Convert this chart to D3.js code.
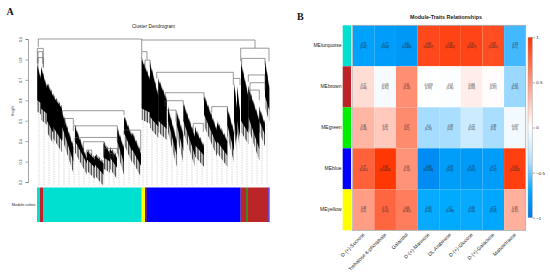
<!DOCTYPE html>
<html>
<head>
<meta charset="utf-8">
<script src="https://cdn.jsdelivr.net/npm/d3@7"></script>
<style>
html, body { margin: 0; padding: 0; background: #fff; }
svg { display: block; }
text { font-family: "Liberation Sans", Arial, sans-serif; fill: #222; }
</style>
</head>
<body>
<div id="chart"></div>
<script>
// panel A: dendrogram, x is leaf rank, y is height
let heightTicks = [0.9, 0.8, 0.7, 0.6, 0.5, 0.4, 0.3, 0.2];

// black leaf blocks: start, end, top at start, top at end, bottom at start, bottom at end
let leafBlocks = [
    [0.3, 4, .77, .70, .60, .585], [4, 11, .76, .64, .56, .53], [10, 16.3, .68, .62, .50, .44],
    [16, 25, .62, .56, .47, .40], [25, 36.3, .54, .37, .47, .30], [38, 50, .47, .31, .40, .29],
    [50, 58, .35, .31, .31, .27], [58, 66.5, .33, .29, .285, .235], [66.5, 73, .39, .34, .32, .30],
    [73, 80, .36, .32, .32, .27], [80.3, 87, .46, .36, .40, .29], [87, 95, .52, .42, .44, .35],
    [95, 104, .44, .34, .36, .28], [104.7, 113, .80, .70, .56, .54], [113, 121.3, .78, .62, .52, .47],
    [121.3, 129.7, .70, .60, .50, .46], [131, 139.7, .56, .40, .50, .33], [139.7, 146.3, .54, .43, .48, .35],
    [146.3, 158, .58, .42, .50, .33], [158, 167, .46, .37, .38, .33], [167, 180, .62, .45, .53, .38],
    [180, 190.3, .49, .40, .40, .33], [190.3, 197, .56, .44, .48, .35], [197, 200, .68, .56, .50, .40],
    [200, 203, .66, .55, .50, .42], [204, 211.3, .78, .62, .50, .44], [211.3, 222.3, .66, .50, .52, .36],
    [222.3, 228, .56, .48, .50, .43], [228, 232.3, .79, .66, .62, .55]
];

// merges: left, right, height, left leg end, right leg end
let merges = [
    [1.3, 104.7, .900, .860, .895], [104.7, 218, .895, .840, .855], [203.7, 232, .855, .790, .790],
    [0.3, 6.3, .854, .780, .760], [1, 5.7, .838, .780, .780], [1, 6.3, .809, .760, .760],
    [25.3, 87, .549, .528, .528], [28, 36.3, .511, .480, .480], [36.3, 80.3, .475, .450, .454],
    [38, 80.3, .418, .400, .400], [46.3, 67, .397, .348, .364], [49.7, 54.7, .356, .330, .330],
    [87, 103.7, .454, .430, .350], [67, 80.3, .364, .340, .340], [73, 76.3, .340, .320, .320],
    [119.7, 196.3, .737, .707, .707], [196.3, 203, .707, .675, .675], [128, 167, .637, .609, .600],
    [128, 146.3, .598, .570, .570], [129.7, 139, .552, .495, .495], [156.3, 166.3, .487, .446, .446],
    [174.7, 190.3, .569, .540, .540], [204.7, 228, .805, .773, .773], [211.3, 228, .724, .690, .690],
    [213, 228, .686, .650, .650], [213, 222.3, .650, .600, .600], [104.7, 110, .838, .800, .800],
    [108, 113, .797, .760, .760]
];

let stemRanks = [2, 7, 12, 17, 22, 27, 32, 37, 42, 47, 52, 57, 62, 67, 72, 77, 82, 87, 92, 97, 102, 106, 110,
    115, 120, 125, 130, 135, 140, 145, 150, 155, 160, 165, 170, 175, 180, 185, 190, 195, 200, 205, 210, 215, 220, 225, 230];

// module colour strip: colour name and leaf rank where each run starts
let moduleRuns = ["turquoise", "brown", "turquoise", "yellow", "darkmix", "blue", "brown", "green", "brown", "blue"];
let moduleStarts = [0, 3, 6, 104.7, 108, 110, 203.7, 209, 211, 231.5];
let moduleEnd = 232.5;
let moduleColors = {turquoise: "#00e0d0", brown: "#bb2528", yellow: "#ffff00", darkmix: "#5a1a90", blue: "#0000ff", green: "#3f8a1e"};

// panel B: module-trait heatmap
let traits = ["D-(+)-Sucrose", "Trehalose 6-phosphate", "Galactitol", "D-(+)-Mannose", "DL-Arabinose", "D-(+)-Glucose", "D-(+)-Galactose", "Maltotetraose"];
let modules = ["MEturquoise", "MEbrown", "MEgreen", "MEblue", "MEyellow"];
let sideColors = ["#00e0d0", "#bb2528", "#00ee00", "#0000ff", "#ffff00"];
let corTurquoise = [-0.75, -0.77, -0.81, 0.89, 0.92, 0.91, 0.87, -0.58];
let corBrown = [0.17, -0.045, 0.55, -0.0059, -0.02, 0.086, 0.015, -0.42];
let corGreen = [0.36, 0.26, 0.57, -0.4, -0.38, -0.24, -0.38, -0.057];
let corBlue = [0.77, 0.98, 0.53, -0.88, -0.78, -0.79, -0.77, 0.94];
let corYellow = [0.48, 0.75, 0.64, -0.69, -0.7, -0.69, -0.72, 0.38];
let pTurquoise = ["(0.02)", "(0.006)", "(0.0006)", "(0.0007)", "(0.0002)", "(0.0007)", "(0.0021)", "(0.1)"];
let pBrown = ["(0.66)", "(0.91)", "(0.13)", "(0.99)", "(0.96)", "(0.83)", "(0.97)", "(0.26)"];
let pGreen = ["(0.34)", "(0.5)", "(0.1)", "(0.29)", "(0.3)", "(0.54)", "(0.3)", "(0.9)"];
let pBlue = ["(0.015)", "(0.00004)", "(0.14)", "(0.0008)", "(0.01)", "(0.011)", "(0.02)", "(0.0002)"];
let pYellow = ["(0.2)", "(0.02)", "(0.062)", "(0.04)", "(0.036)", "(0.04)", "(0.03)", "(0.31)"];
let legendTicks = [1, 0.5, 0, -0.5, -1];

let cors = [corTurquoise, corBrown, corGreen, corBlue, corYellow];
let pvals = [pTurquoise, pBrown, pGreen, pBlue, pYellow];

let svg = d3.select("#chart").append("svg").attr("width", 550).attr("height", 274);

let defs = svg.append("defs");
defs.append("filter").attr("id", "soft").append("feGaussianBlur").attr("stdDeviation", 0.35);
let stripes = defs.append("pattern").attr("id", "leafStripes").attr("patternUnits", "userSpaceOnUse")
    .attr("width", 1.6).attr("height", 10);
stripes.append("rect").attr("width", 0.8).attr("height", 10).attr("fill", "#333");

// panel A
let xLeaf = d3.scaleLinear().domain([0, 232.5]).range([37, 269.5]);
let yH = d3.scaleLinear().domain([0.9, 0.2]).range([39, 182]);

svg.append("text").text("A").attr("x", 6.5).attr("y", 15).style("font-family", "Liberation Serif")
    .style("font-weight", "bold").style("font-size", "10px").style("fill", "#111");
svg.append("text").text("Cluster Dendrogram").attr("x", 153.5).attr("y", 27.5).attr("text-anchor", "middle")
    .style("font-size", "4.8px");
svg.append("text").text("Height").attr("transform", "translate(14,111) rotate(-90)").attr("text-anchor", "middle")
    .style("font-size", "3.6px");

let yAxis = svg.append("g").attr("transform", "translate(28,0)")
    .call(d3.axisLeft(yH).tickValues(heightTicks).tickSize(2.5).tickFormat(d3.format(".1f")));
yAxis.select(".domain").attr("stroke", "#666").attr("stroke-width", 0.6);
yAxis.selectAll(".tick line").attr("stroke", "#666").attr("stroke-width", 0.6);
yAxis.selectAll(".tick text").attr("transform", "rotate(-90)").attr("x", 0).attr("y", -6)
    .attr("text-anchor", "middle").attr("dy", 0).style("font-size", "3.6px").style("font-family", "Liberation Sans");

let dendro = svg.append("g").attr("filter", "url(#soft)");

function blockBottomAt(x) {
    let b = leafBlocks.find(d => x >= d[0] && x <= d[1]);
    if (!b) return 0.5;
    return b[4] + (b[5] - b[4]) * (x - b[0]) / (b[1] - b[0]);
}

dendro.selectAll("line.stem").data(stemRanks).enter().append("line").attr("class", "stem")
    .attr("x1", d => xLeaf(d)).attr("x2", d => xLeaf(d))
    .attr("y1", d => yH(blockBottomAt(d))).attr("y2", yH(0.185))
    .attr("stroke", "#c8c8c8").attr("stroke-width", 0.7).attr("stroke-dasharray", "1.5,1");

function blockPath(d, rise, drop) {
    return d3.line()([
        [xLeaf(d[0]), yH(d[2] + rise)], [xLeaf(d[1]), yH(d[3] + rise)],
        [xLeaf(d[1]), yH(d[5] - drop)], [xLeaf(d[0]), yH(d[4] - drop)]
    ]) + "Z";
}

// striped fringe stands in for the single leaf branches at the block edges
dendro.selectAll("path.fuzz").data(leafBlocks).enter().append("path").attr("class", "fuzz")
    .attr("d", d => blockPath(d, 0.012, 0.055)).style("fill", "url(#leafStripes)");
dendro.selectAll("path.block").data(leafBlocks).enter().append("path").attr("class", "block")
    .attr("d", d => blockPath(d, 0, 0)).attr("fill", "#000");

dendro.selectAll("path.merge").data(merges).enter().append("path").attr("class", "merge")
    .attr("d", d => d3.line()([
        [xLeaf(d[0]), yH(d[3])], [xLeaf(d[0]), yH(d[2])],
        [xLeaf(d[1]), yH(d[2])], [xLeaf(d[1]), yH(d[4])]
    ]))
    .attr("fill", "none").attr("stroke", "#555").attr("stroke-width", 0.6);

// module colour strip
svg.selectAll("rect.module").data(moduleRuns).enter().append("rect").attr("class", "module")
    .attr("x", (d, i) => xLeaf(moduleStarts[i]))
    .attr("width", (d, i) => xLeaf(i + 1 < moduleStarts.length ? moduleStarts[i + 1] : moduleEnd) - xLeaf(moduleStarts[i]))
    .attr("y", 187.5).attr("height", 34.5)
    .style("fill", d => moduleColors[d]);
svg.append("text").text("Module colors").attr("x", 35.5).attr("y", 206).attr("text-anchor", "end")
    .style("font-size", "3.8px");

// panel B
let xCol = d3.scaleBand().domain(traits).range([352.7, 525.7]);
let yRow = d3.scaleBand().domain(modules).range([25.3, 230.3]);
let color = d3.scaleLinear().domain([-1, -0.7, -0.58, -0.4, -0.2, 0, 1])
    .range(["#0078ea", "#00aaff", "#44b8ff", "#a5dcff", "#d6efff", "#ffffff", "#ff3300"]);

svg.append("text").text("B").attr("x", 297).attr("y", 20).style("font-family", "Liberation Serif")
    .style("font-weight", "bold").style("font-size", "10px").style("fill", "#111");
svg.append("text").text("Module-Traits Relationships").attr("x", 446).attr("y", 18.5).attr("text-anchor", "middle")
    .style("font-size", "5.4px").style("font-weight", "bold");

svg.selectAll("rect.side").data(modules).enter().append("rect").attr("class", "side")
    .attr("x", 342.7).attr("width", 8.3).attr("y", d => yRow(d)).attr("height", yRow.bandwidth())
    .style("fill", (d, i) => sideColors[i]);

svg.selectAll("text.rowlab").data(modules).enter().append("text").attr("class", "rowlab")
    .text(d => d).attr("x", 341.5).attr("y", d => yRow(d) + yRow.bandwidth() / 2 + 1.5)
    .attr("text-anchor", "end").style("font-size", "5px");

let row = svg.selectAll("g.row").data(modules).enter().append("g").attr("class", "row")
    .attr("transform", d => "translate(0," + yRow(d) + ")");

row.each(function (m, r) {
    let cell = d3.select(this).selectAll("g").data(traits).enter().append("g")
        .attr("transform", d => "translate(" + xCol(d) + ",0)");
    cell.append("rect").attr("width", xCol.bandwidth()).attr("height", yRow.bandwidth())
        .style("fill", (d, c) => color(cors[r][c]));
    cell.append("text").text((d, c) => cors[r][c]).attr("x", xCol.bandwidth() / 2).attr("y", yRow.bandwidth() / 2 - 0.6)
        .attr("text-anchor", "middle").style("font-size", "2.6px");
    cell.append("text").text((d, c) => pvals[r][c]).attr("x", xCol.bandwidth() / 2).attr("y", yRow.bandwidth() / 2 + 2.4)
        .attr("text-anchor", "middle").style("font-size", "2.6px");
});

svg.append("rect").attr("x", 352.2).attr("y", 25.3).attr("width", 173.5).attr("height", 205)
    .attr("fill", "none").attr("stroke", "#aaa").attr("stroke-width", 0.8);

svg.selectAll("text.collab").data(traits).enter().append("text").attr("class", "collab")
    .text(d => d).attr("text-anchor", "end")
    .attr("transform", d => "translate(" + (xCol(d) + xCol.bandwidth() / 2 + 1.5) + ",235) rotate(-45)")
    .style("font-size", "5px");

// colour legend
let yLegend = d3.scaleLinear().domain([1, -1]).range([37.3, 217.7]);
let grad = defs.append("linearGradient").attr("id", "legendGrad")
    .attr("x1", 0).attr("x2", 0).attr("y1", 0).attr("y2", 1);
grad.selectAll("stop").data(d3.range(0, 21)).enter().append("stop")
    .attr("offset", d => d * 5 + "%").attr("stop-color", d => color(1 - d / 10));
svg.append("rect").attr("x", 528).attr("y", yLegend(1)).attr("width", 4.3).attr("height", yLegend(-1) - yLegend(1))
    .style("fill", "url(#legendGrad)").attr("stroke", "#999").attr("stroke-width", 0.4);

let legendAxis = svg.append("g").attr("transform", "translate(532.3,0)")
    .call(d3.axisRight(yLegend).tickValues(legendTicks).tickSize(2.8).tickFormat(d3.format("")));
legendAxis.select(".domain").remove();
legendAxis.selectAll(".tick line").attr("stroke", "#666").attr("stroke-width", 0.5);
legendAxis.selectAll(".tick text").attr("x", 4).style("font-size", "4.4px").style("font-family", "Liberation Sans");
</script>
</body>
</html>
